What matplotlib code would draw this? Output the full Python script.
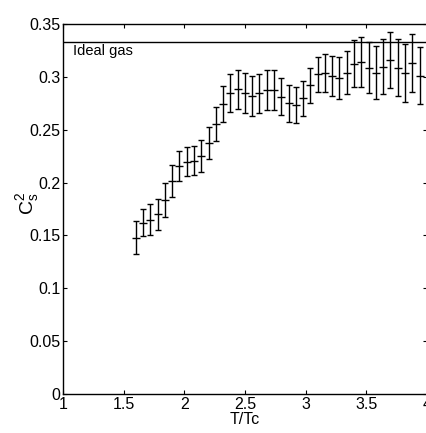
import numpy as np
import matplotlib
matplotlib.use('Agg')
import matplotlib.pyplot as plt

plt.rcParams['font.family'] = ['Liberation Sans', 'DejaVu Sans']
plt.rcParams['mathtext.fontset'] = 'custom'
plt.rcParams['mathtext.rm'] = 'Liberation Sans'
plt.rcParams['mathtext.it'] = 'Liberation Sans'

# T/Tc sample points (uniform step)
t_over_tc = [1.60, 1.66, 1.72, 1.78, 1.84, 1.90, 1.96, 2.02, 2.08, 2.14,
             2.20, 2.26, 2.32, 2.38, 2.44, 2.50, 2.56, 2.62, 2.68, 2.74,
             2.80, 2.86, 2.92, 2.98, 3.04, 3.10, 3.16, 3.22, 3.28, 3.34,
             3.40, 3.46, 3.52, 3.58, 3.64, 3.70, 3.76, 3.82, 3.88, 3.94]

cs2 = [0.148, 0.162, 0.165, 0.170, 0.1835, 0.2015, 0.2157, 0.2198, 0.2207, 0.2251,
       0.2372, 0.2554, 0.2743, 0.2850, 0.2882, 0.2850, 0.2822, 0.2845, 0.2873, 0.2873,
       0.2812, 0.2750, 0.2734, 0.2797, 0.2920, 0.3024, 0.3040, 0.3008, 0.2992, 0.3040,
       0.3122, 0.3138, 0.3087, 0.3040, 0.3096, 0.3160, 0.3087, 0.3034, 0.3134, 0.3011]

cs2_err = [0.0158, 0.013, 0.0145, 0.0147, 0.0158, 0.0154, 0.0142, 0.014, 0.0137, 0.0153,
           0.015, 0.0164, 0.0174, 0.018, 0.0186, 0.019, 0.019, 0.0186, 0.019, 0.019,
           0.0175, 0.0174, 0.0166, 0.0167, 0.0164, 0.0167, 0.018, 0.0188, 0.020, 0.0206,
           0.0222, 0.0236, 0.024, 0.025, 0.026, 0.0263, 0.0268, 0.0276, 0.0273, 0.0272]

ideal_gas = 1.0 / 3.0

fig = plt.figure(figsize=(4.27, 4.33), dpi=100)
ax = fig.add_axes([0.1475, 0.0901, 0.852, 0.8545])

ax.errorbar(t_over_tc, cs2, yerr=cs2_err, fmt='_', color='black',
            ecolor='black', elinewidth=1, capsize=2.0, capthick=1,
            markersize=5.5, markeredgewidth=1)

ax.axhline(ideal_gas, color='black', linewidth=1)
ax.text(1.08, 0.3205, 'Ideal gas', fontsize=10.5, ha='left', va='baseline')

ax.set_xlim(1, 4)
ax.set_ylim(0, 0.35)
ax.set_xticks([1, 1.5, 2, 2.5, 3, 3.5, 4])
ax.set_xticklabels(['1', '1.5', '2', '2.5', '3', '3.5', '4'])
ax.set_yticks([0, 0.05, 0.1, 0.15, 0.2, 0.25, 0.3, 0.35])
ax.set_yticklabels(['0', '0.05', '0.1', '0.15', '0.2', '0.25', '0.3', '0.35'])
ax.tick_params(direction='in', top=True, right=True, length=3, width=0.8,
               labelsize=11.5, pad=2)

ax.set_xlabel('T/Tc', fontsize=11.5, labelpad=0)
ax.set_ylabel(r'$\mathrm{C_s^2}$', fontsize=14)
ax.yaxis.set_label_coords(-0.06, 0.515)

for sp in ax.spines.values():
    sp.set_linewidth(1)

fig.savefig('out.png', dpi=100)
